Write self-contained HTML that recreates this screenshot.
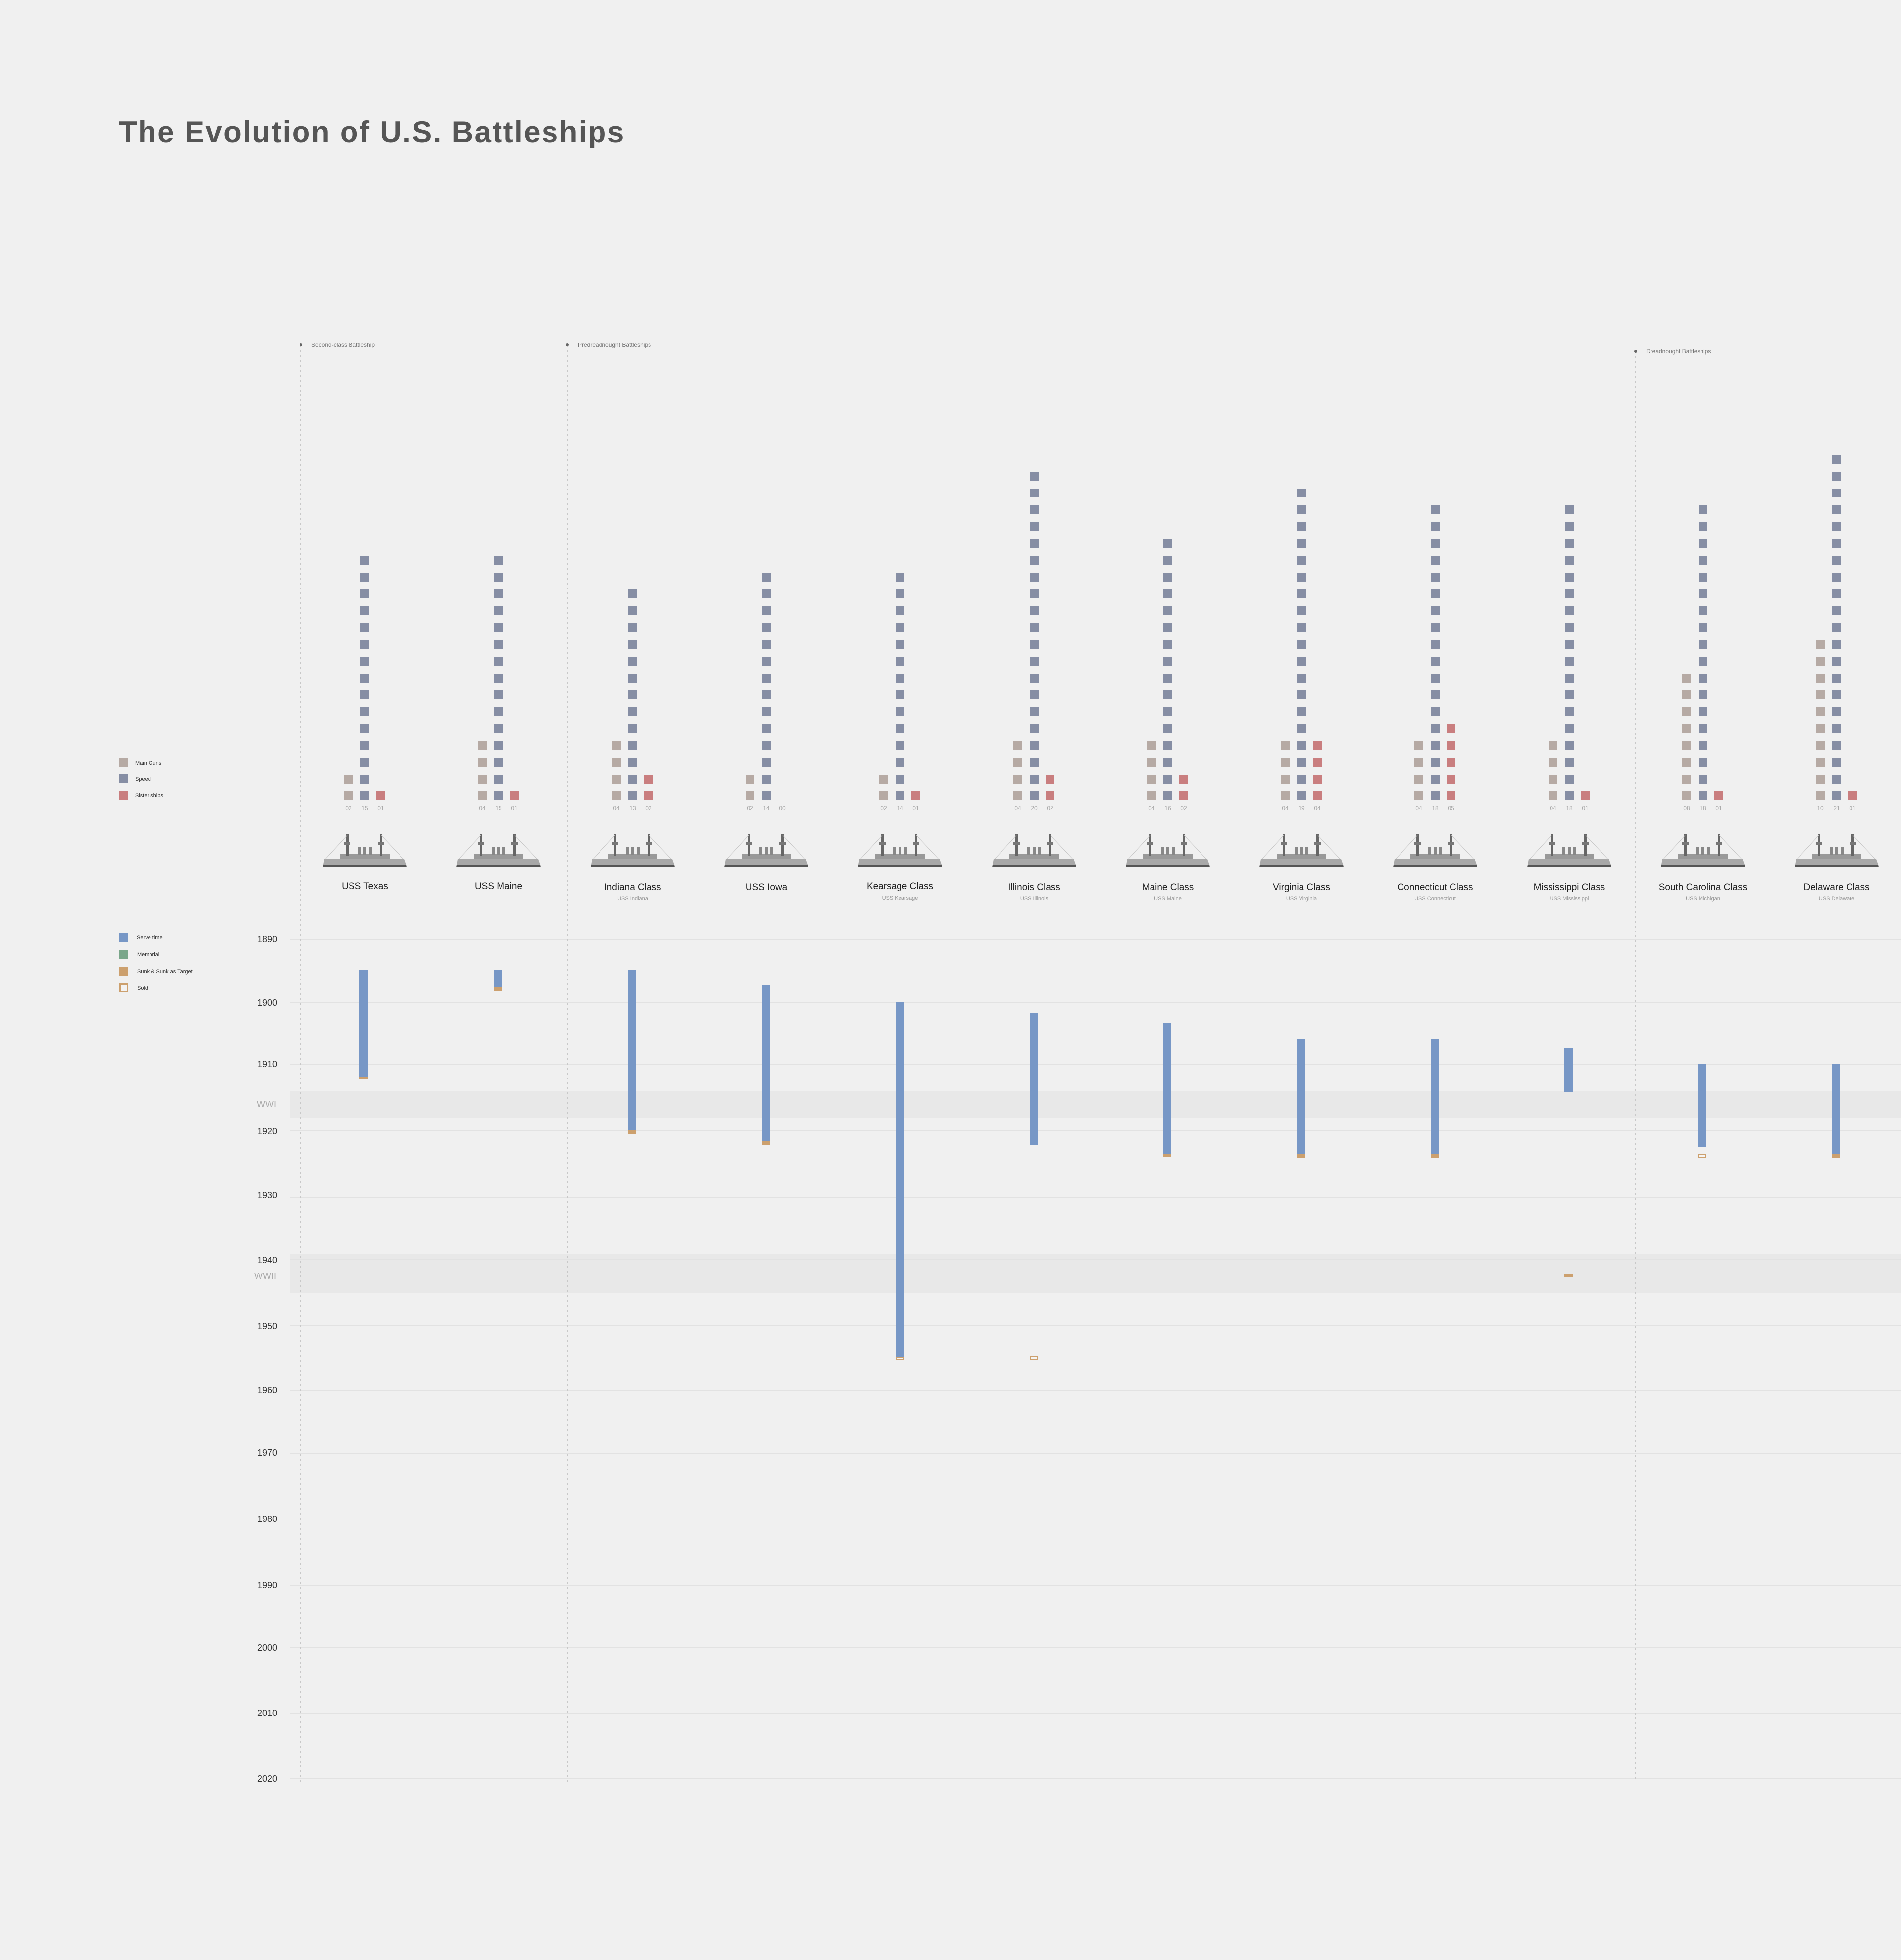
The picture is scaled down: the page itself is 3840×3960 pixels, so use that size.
<!DOCTYPE html>
<html><head><meta charset="utf-8">
<style>
html,body{margin:0;padding:0;background:#f0f0f0;}
svg{display:block;}
text{font-family:"Liberation Sans",Arial,sans-serif;}
</style></head>
<body>
<svg width="3840" height="3960" viewBox="0 0 3840 3960" xmlns="http://www.w3.org/2000/svg">
<rect width="3840" height="3960" fill="#f0f0f0"/>
<defs>
<g id="ship">
  <path d="M-85,0 L85,0 L84,-5 L-84,-5 Z" fill="#555"/>
  <path d="M-84,-5 L84,-5 L80,-16 L-82,-16 Z" fill="#a8a8a8"/>
  <rect x="-50" y="-26" width="100" height="10" fill="#999"/>
  <rect x="-14" y="-40" width="6" height="16" fill="#888"/>
  <rect x="-3" y="-40" width="6" height="16" fill="#888"/>
  <rect x="8" y="-40" width="6" height="16" fill="#888"/>
  <rect x="-38" y="-66" width="5" height="44" fill="#666"/>
  <rect x="30" y="-66" width="5" height="44" fill="#666"/>
  <rect x="-42" y="-50" width="13" height="6" fill="#777"/>
  <rect x="26" y="-50" width="13" height="6" fill="#777"/>
  <path d="M-36,-64 L-80,-16 M33,-64 L78,-16" stroke="#c4c4c4" stroke-width="1" fill="none"/>
</g>
</defs>

<text x="240" y="287" font-size="60" font-weight="bold" fill="#555" letter-spacing="2.4">The Evolution of U.S. Battleships</text>

<rect x="585" y="2204" width="3255" height="54" fill="#e8e8e8"/>
<rect x="585" y="2533" width="3255" height="79" fill="#e8e8e8"/>

<g stroke="#e2e2e2" stroke-width="2">
<line x1="585" x2="3840" y1="1898" y2="1898"/>
<line x1="585" x2="3840" y1="2025" y2="2025"/>
<line x1="585" x2="3840" y1="2150" y2="2150"/>
<line x1="585" x2="3840" y1="2284" y2="2284"/>
<line x1="585" x2="3840" y1="2420" y2="2420"/>
<line x1="585" x2="3840" y1="2544" y2="2544"/>
<line x1="585" x2="3840" y1="2678" y2="2678"/>
<line x1="585" x2="3840" y1="2809" y2="2809"/>
<line x1="585" x2="3840" y1="2937" y2="2937"/>
<line x1="585" x2="3840" y1="3069" y2="3069"/>
<line x1="585" x2="3840" y1="3203" y2="3203"/>
<line x1="585" x2="3840" y1="3329" y2="3329"/>
<line x1="585" x2="3840" y1="3461" y2="3461"/>
<line x1="585" x2="3840" y1="3594" y2="3594"/>
</g>

<g font-size="18" fill="#333" text-anchor="end">
<text x="560" y="1904">1890</text>
<text x="560" y="2032">1900</text>
<text x="560" y="2156">1910</text>
<text x="560" y="2292">1920</text>
<text x="560" y="2421">1930</text>
<text x="560" y="2552">1940</text>
<text x="560" y="2686">1950</text>
<text x="560" y="2815">1960</text>
<text x="560" y="2941">1970</text>
<text x="560" y="3075">1980</text>
<text x="560" y="3209">1990</text>
<text x="560" y="3335">2000</text>
<text x="560" y="3467">2010</text>
<text x="560" y="3600">2020</text>
</g>
<g font-size="18" fill="#aaa" text-anchor="end">
<text x="558" y="2237">WWI</text>
<text x="558" y="2584">WWII</text>
</g>

<g stroke="#c8c8c8" stroke-width="2" stroke-dasharray="4,6">
<line x1="608" x2="608" y1="697" y2="3600"/>
<line x1="1146" x2="1146" y1="697" y2="3600"/>
<line x1="3304" x2="3304" y1="710" y2="3600"/>
</g>
<g fill="#666"><circle cx="608" cy="697" r="3"/><circle cx="1146" cy="697" r="3"/><circle cx="3304" cy="710" r="3"/></g>
<g font-size="12" fill="#777">
<text x="629" y="701">Second-class Battleship</text>
<text x="1167" y="701">Predreadnought Battleships</text>
<text x="3325" y="714">Dreadnought Battleships</text>
</g>

<rect x="241" y="1532" width="18" height="18" fill="#b6aaa4"/>
<rect x="241" y="1564" width="18" height="18" fill="#868ea4"/>
<rect x="241" y="1598" width="18" height="18" fill="#c97e7f"/>
<g font-size="11" fill="#333">
<text x="273" y="1545">Main Guns</text>
<text x="273" y="1577">Speed</text>
<text x="273" y="1611">Sister ships</text>
</g>

<rect x="241" y="1885" width="18" height="18" fill="#7797c6"/>
<rect x="241" y="1919" width="18" height="18" fill="#7aa68a"/>
<rect x="241" y="1953" width="18" height="18" fill="#cca06e"/>
<rect x="242.5" y="1988.5" width="15" height="15" fill="#f3f3f3" stroke="#cca06e" stroke-width="3"/>
<g font-size="11" fill="#333">
<text x="276" y="1898">Serve time</text>
<text x="277" y="1932">Memorial</text>
<text x="277" y="1966">Sunk &amp; Sunk as Target</text>
<text x="277" y="2000">Sold</text>
</g>

<g stroke-width="18" stroke-dasharray="18,16" fill="none">
<line x1="704" x2="704" y1="1617" y2="1565" stroke="#b6aaa4"/>
<line x1="737" x2="737" y1="1617" y2="1123" stroke="#868ea4"/>
<line x1="769" x2="769" y1="1617" y2="1599" stroke="#c97e7f"/>
<line x1="974" x2="974" y1="1617" y2="1497" stroke="#b6aaa4"/>
<line x1="1007" x2="1007" y1="1617" y2="1123" stroke="#868ea4"/>
<line x1="1039" x2="1039" y1="1617" y2="1599" stroke="#c97e7f"/>
<line x1="1245" x2="1245" y1="1617" y2="1497" stroke="#b6aaa4"/>
<line x1="1278" x2="1278" y1="1617" y2="1191" stroke="#868ea4"/>
<line x1="1310" x2="1310" y1="1617" y2="1565" stroke="#c97e7f"/>
<line x1="1515" x2="1515" y1="1617" y2="1565" stroke="#b6aaa4"/>
<line x1="1548" x2="1548" y1="1617" y2="1157" stroke="#868ea4"/>
<line x1="1785" x2="1785" y1="1617" y2="1565" stroke="#b6aaa4"/>
<line x1="1818" x2="1818" y1="1617" y2="1157" stroke="#868ea4"/>
<line x1="1850" x2="1850" y1="1617" y2="1599" stroke="#c97e7f"/>
<line x1="2056" x2="2056" y1="1617" y2="1497" stroke="#b6aaa4"/>
<line x1="2089" x2="2089" y1="1617" y2="953" stroke="#868ea4"/>
<line x1="2121" x2="2121" y1="1617" y2="1565" stroke="#c97e7f"/>
<line x1="2326" x2="2326" y1="1617" y2="1497" stroke="#b6aaa4"/>
<line x1="2359" x2="2359" y1="1617" y2="1089" stroke="#868ea4"/>
<line x1="2391" x2="2391" y1="1617" y2="1565" stroke="#c97e7f"/>
<line x1="2596" x2="2596" y1="1617" y2="1497" stroke="#b6aaa4"/>
<line x1="2629" x2="2629" y1="1617" y2="987" stroke="#868ea4"/>
<line x1="2661" x2="2661" y1="1617" y2="1497" stroke="#c97e7f"/>
<line x1="2866" x2="2866" y1="1617" y2="1497" stroke="#b6aaa4"/>
<line x1="2899" x2="2899" y1="1617" y2="1021" stroke="#868ea4"/>
<line x1="2931" x2="2931" y1="1617" y2="1463" stroke="#c97e7f"/>
<line x1="3137" x2="3137" y1="1617" y2="1497" stroke="#b6aaa4"/>
<line x1="3170" x2="3170" y1="1617" y2="1021" stroke="#868ea4"/>
<line x1="3202" x2="3202" y1="1617" y2="1599" stroke="#c97e7f"/>
<line x1="3407" x2="3407" y1="1617" y2="1361" stroke="#b6aaa4"/>
<line x1="3440" x2="3440" y1="1617" y2="1021" stroke="#868ea4"/>
<line x1="3472" x2="3472" y1="1617" y2="1599" stroke="#c97e7f"/>
<line x1="3677" x2="3677" y1="1617" y2="1293" stroke="#b6aaa4"/>
<line x1="3710" x2="3710" y1="1617" y2="919" stroke="#868ea4"/>
<line x1="3742" x2="3742" y1="1617" y2="1599" stroke="#c97e7f"/>
</g>

<g font-size="12" fill="#aaa" text-anchor="middle">
<text x="704" y="1637">02</text><text x="737" y="1637">15</text><text x="769" y="1637">01</text>
<text x="974" y="1637">04</text><text x="1007" y="1637">15</text><text x="1039" y="1637">01</text>
<text x="1245" y="1637">04</text><text x="1278" y="1637">13</text><text x="1310" y="1637">02</text>
<text x="1515" y="1637">02</text><text x="1548" y="1637">14</text><text x="1580" y="1637">00</text>
<text x="1785" y="1637">02</text><text x="1818" y="1637">14</text><text x="1850" y="1637">01</text>
<text x="2056" y="1637">04</text><text x="2089" y="1637">20</text><text x="2121" y="1637">02</text>
<text x="2326" y="1637">04</text><text x="2359" y="1637">16</text><text x="2391" y="1637">02</text>
<text x="2596" y="1637">04</text><text x="2629" y="1637">19</text><text x="2661" y="1637">04</text>
<text x="2866" y="1637">04</text><text x="2899" y="1637">18</text><text x="2931" y="1637">05</text>
<text x="3137" y="1637">04</text><text x="3170" y="1637">18</text><text x="3202" y="1637">01</text>
<text x="3407" y="1637">08</text><text x="3440" y="1637">18</text><text x="3472" y="1637">01</text>
<text x="3677" y="1637">10</text><text x="3710" y="1637">21</text><text x="3742" y="1637">01</text>
</g>

<use href="#ship" x="737" y="1752"/>
<use href="#ship" x="1007" y="1752"/>
<use href="#ship" x="1278" y="1752"/>
<use href="#ship" x="1548" y="1752"/>
<use href="#ship" x="1818" y="1752"/>
<use href="#ship" x="2089" y="1752"/>
<use href="#ship" x="2359" y="1752"/>
<use href="#ship" x="2629" y="1752"/>
<use href="#ship" x="2899" y="1752"/>
<use href="#ship" x="3170" y="1752"/>
<use href="#ship" x="3440" y="1752"/>
<use href="#ship" x="3710" y="1752"/>

<g font-size="19" fill="#222" text-anchor="middle">
<text x="737" y="1797">USS Texas</text>
<text x="1007" y="1797">USS Maine</text>
<text x="1278" y="1799">Indiana Class</text>
<text x="1548" y="1799">USS Iowa</text>
<text x="1818" y="1797">Kearsage Class</text>
<text x="2089" y="1799">Illinois Class</text>
<text x="2359" y="1799">Maine Class</text>
<text x="2629" y="1799">Virginia Class</text>
<text x="2899" y="1799">Connecticut Class</text>
<text x="3170" y="1799">Mississippi Class</text>
<text x="3440" y="1799">South Carolina Class</text>
<text x="3710" y="1799">Delaware Class</text>
</g>
<g font-size="11" fill="#999" text-anchor="middle">
<text x="1278" y="1819">USS Indiana</text>
<text x="1818" y="1818">USS Kearsage</text>
<text x="2089" y="1819">USS Illinois</text>
<text x="2359" y="1819">USS Maine</text>
<text x="2629" y="1819">USS Virginia</text>
<text x="2899" y="1819">USS Connecticut</text>
<text x="3170" y="1819">USS Mississippi</text>
<text x="3440" y="1819">USS Michigan</text>
<text x="3710" y="1819">USS Delaware</text>
</g>

<g fill="#7797c6">
<rect x="726" y="1959" width="17" height="216"/>
<rect x="997" y="1959" width="17" height="36"/>
<rect x="1268" y="1959" width="17" height="325"/>
<rect x="1539" y="1991" width="17" height="315"/>
<rect x="1809" y="2025" width="17" height="717"/>
<rect x="2080" y="2046" width="17" height="267"/>
<rect x="2349" y="2067" width="17" height="264"/>
<rect x="2620" y="2100" width="17" height="231"/>
<rect x="2890" y="2100" width="17" height="231"/>
<rect x="3160" y="2118" width="17" height="89"/>
<rect x="3430" y="2150" width="17" height="167"/>
<rect x="3700" y="2150" width="17" height="181"/>
</g>
<g fill="#cca06e">
<rect x="726" y="2175" width="17" height="6"/>
<rect x="997" y="1995" width="17" height="7"/>
<rect x="1268" y="2284" width="17" height="8"/>
<rect x="1539" y="2306" width="17" height="7"/>
<rect x="2349" y="2331" width="17" height="7"/>
<rect x="2620" y="2331" width="17" height="8"/>
<rect x="2890" y="2331" width="17" height="8"/>
<rect x="3160" y="2575" width="17" height="6"/>
<rect x="3700" y="2331" width="17" height="8"/>
</g>
<g fill="#f5f5f5" stroke="#cca06e" stroke-width="2">
<rect x="1810" y="2742" width="15" height="5"/>
<rect x="2081" y="2741" width="15" height="6"/>
<rect x="3431" y="2333" width="15" height="5"/>
</g>
</svg>
</body></html>
